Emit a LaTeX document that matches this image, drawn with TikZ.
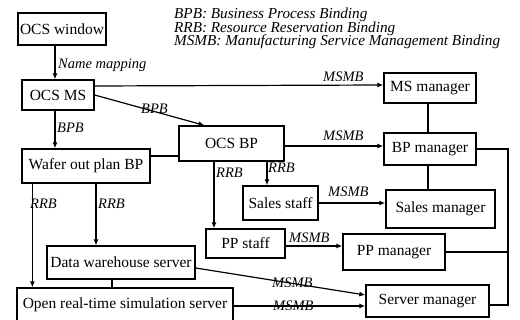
\documentclass[tikz,border=0pt]{standalone}
\usepackage{fontspec}
\setmainfont{Liberation Serif}
\usetikzlibrary{arrows.meta}
\begin{document}
\begin{tikzpicture}[x=1pt,y=-1pt,
  box/.style={draw,line width=1.3pt,inner sep=0pt,font=\fontsize{15.5}{17}\selectfont},
  arr/.style={line width=1.2pt,-{Latex[length=6pt,width=5pt]}},
  link/.style={line width=1.2pt},
  lab/.style={inner sep=0pt,anchor=base west,font=\fontsize{14.5}{16}\selectfont\itshape},
  legend/.style={inner sep=0pt,anchor=base west,font=\fontsize{15.2}{13}\selectfont\itshape}]
\useasboundingbox (0,0) rectangle (520,320);

% legend
\node[legend] (leg1) at (174,19) {BPB: Business Process Binding};
\node[legend] (leg2) at (174,32.5) {RRB: Resource Reservation Binding};
\node[legend] (leg3) at (174,46) {MSMB: Manufacturing Service Management Binding};

% boxes
\node[box,minimum width=88,minimum height=32] (ocswin) at (62,29) {OCS window};
\node[box,minimum width=72,minimum height=30] (ocsms) at (58,95) {OCS MS};
\node[box,minimum width=128,minimum height=34] (wafer) at (86,166) {Wafer out plan BP};
\node[box,minimum width=105,minimum height=35] (ocsbp) at (231.5,143.5) {OCS BP};
\node[box,minimum width=92,minimum height=30] (msman) at (430,88) {MS manager};
\node[box,minimum width=92,minimum height=32] (bpman) at (430,149) {BP manager};
\node[box,minimum width=75,minimum height=34] (sstaff) at (280.5,203) {Sales staff};
\node[box,minimum width=109,minimum height=38] (sman) at (440.5,209) {Sales manager};
\node[box,minimum width=79,minimum height=29] (ppstaff) at (245.5,243.5) {PP staff};
\node[box,minimum width=102,minimum height=36] (ppman) at (394,252) {PP manager};
\node[box,minimum width=148,minimum height=33] (dw) at (121,262.5) {Data warehouse server};
\node[box,minimum width=216,minimum height=34] (ort) at (125,305) {Open real-time simulation server};
\node[box,minimum width=123,minimum height=32] (srvman) at (427.5,301) {Server manager};

% bindings between the boxes
\draw[arr] ([xshift=-3pt]ocsms.north |- ocswin.south) -- ([xshift=-3pt]ocsms.north);
\node[lab] (nm) at (58,69) {Name mapping};

\draw[arr] ([yshift=9pt]ocsms.east) -- ([yshift=3pt]msman.west);
\node[lab] (l1) at (323,82) {MSMB};

\draw[arr] (ocsms.east) -- ([xshift=-27pt]ocsbp.north);
\node[lab] (l2) at (141,114) {BPB};

\draw[arr] ([xshift=-3pt]ocsms.south) -- ([xshift=-3pt]ocsms.south |- wafer.north);
\node[lab] (l3) at (57,133) {BPB};

\draw[link] ([yshift=10pt]wafer.east) -- ([yshift=10pt]wafer.east -| ocsbp.west);

\draw[arr] ([yshift=-2.5pt]ocsbp.east) -- ([yshift=-2.5pt]ocsbp.east -| bpman.west);
\node[lab] (l4) at (323,141) {MSMB};

\draw[link] ([xshift=-2pt]msman.south) -- ([xshift=-2pt]bpman.north);
\draw[link] ([xshift=-2pt]bpman.south) -- ([xshift=-2pt]bpman.south |- sman.north);

\draw[arr] ([xshift=-17.5pt]ocsbp.south) -- ([xshift=-17.5pt]ocsbp.south |- ppstaff.north);
\node[lab] (l5) at (216,178) {RRB};
\draw[arr] ([xshift=35.5pt]ocsbp.south) -- ([xshift=35.5pt]ocsbp.south |- sstaff.north);
\node[lab] (l6) at (268,173) {RRB};

\draw[arr] (sstaff.east) -- (sstaff.east -| sman.west);
\node[lab] (l7) at (328,197) {MSMB};

\draw[arr] ([yshift=-2.5pt]ppstaff.east) -- ([yshift=-2.5pt]ppstaff.east -| ppman.west);
\node[lab] (l8) at (289,243) {MSMB};

% common line on the right
\coordinate (bus) at (508,0);
\draw[link] (bpman.east) -- (bpman.east -| bus) -- ([yshift=-4pt]srvman.east -| bus) -- ([yshift=-4pt]srvman.east);
\draw[link] (ppman.east) -- (ppman.east -| bus);

\draw[arr] ([xshift=11pt]wafer.west |- wafer.south) -- ([xshift=11pt]wafer.west |- ort.north);
\node[lab] (l9) at (30,209) {RRB};
\draw[arr] ([xshift=10pt]wafer.south) -- ([xshift=10pt]wafer.south |- dw.north);
\node[lab] (l10) at (98,209) {RRB};

\draw[link] ([xshift=-9pt]dw.south) -- ([xshift=-9pt]dw.south |- ort.north);

\draw[arr] ([yshift=-5.5pt]dw.east) -- ([yshift=6pt]srvman.west);
\node[lab] (l11) at (272,288) {MSMB};
\draw[arr] ([yshift=-1pt]ort.east) -- ([yshift=-1pt]ort.east -| srvman.west);
\node[lab] (l12) at (273,311) {MSMB};
\end{tikzpicture}
\end{document}
